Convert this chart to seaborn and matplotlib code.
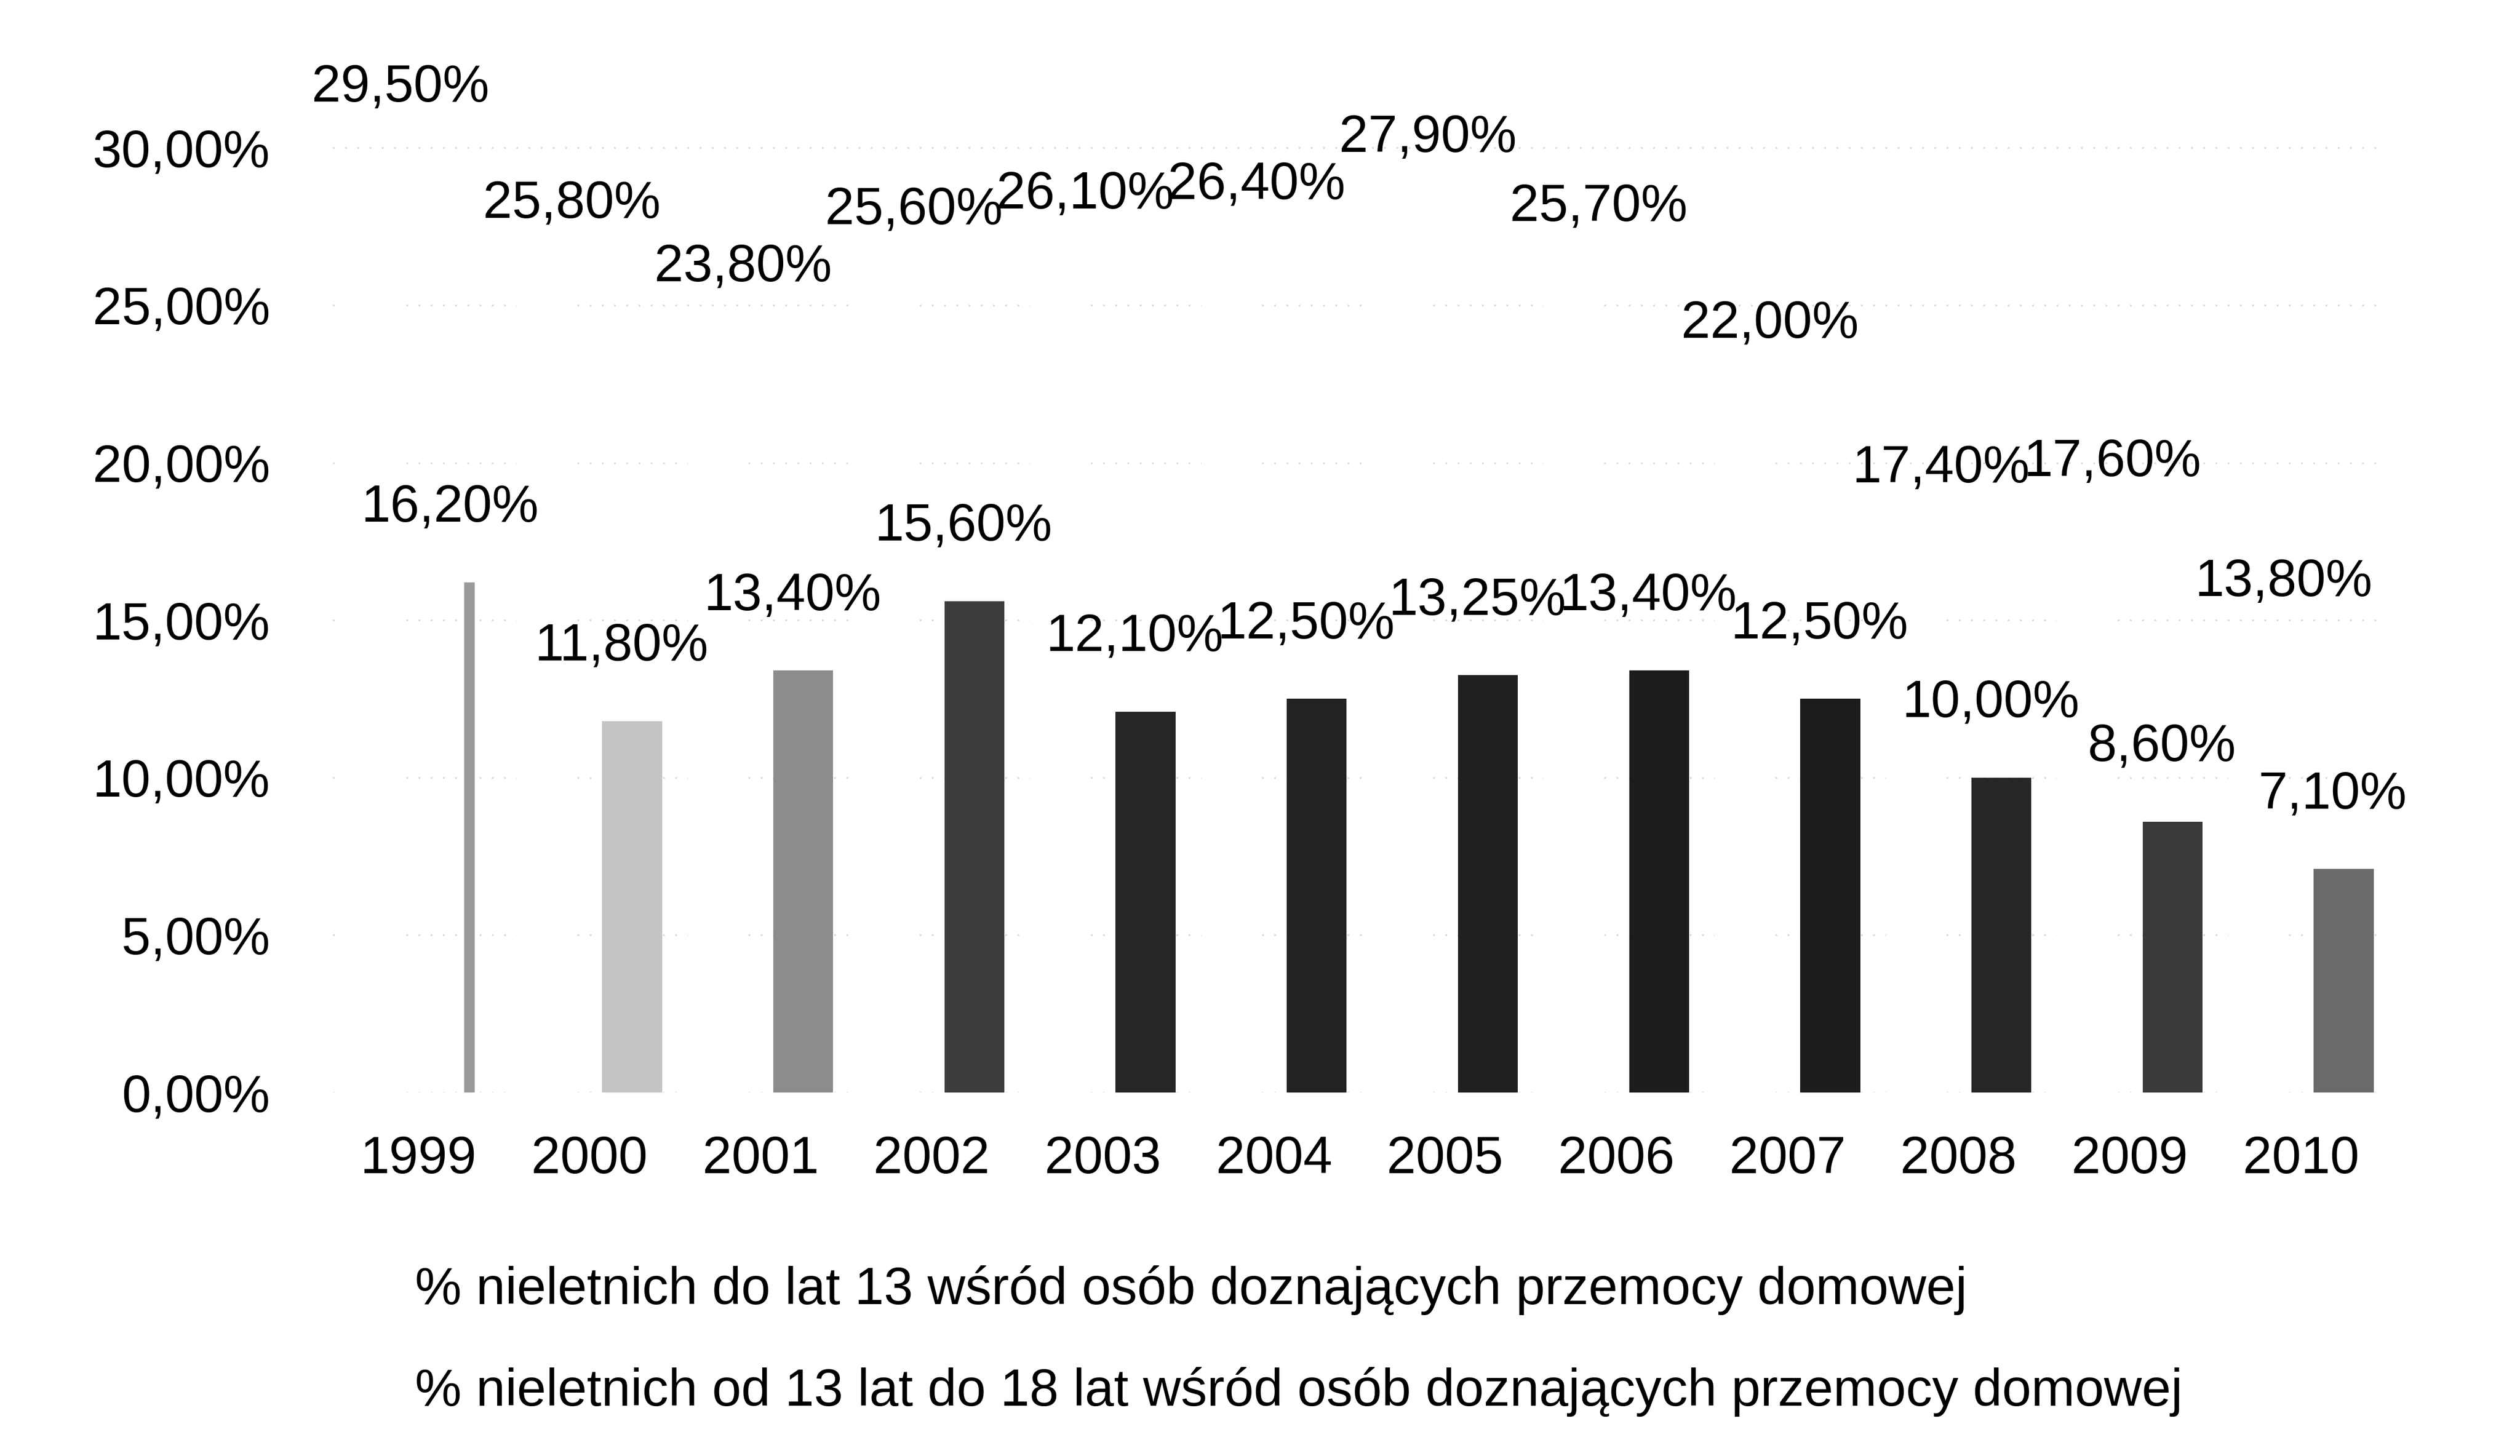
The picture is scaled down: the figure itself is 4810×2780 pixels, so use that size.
import pandas as pd
import numpy as np
import matplotlib
matplotlib.use('Agg')
import matplotlib.pyplot as plt
from matplotlib.ticker import FuncFormatter
import seaborn as sns

years = ['1999', '2000', '2001', '2002', '2003', '2004', '2005', '2006', '2007', '2008', '2009', '2010']
do_13 = [16.2, 11.8, 13.4, 15.6, 12.1, 12.5, 13.25, 13.4, 12.5, 10.0, 8.6, 7.1]
od_13_do_18 = [29.5, 25.8, 23.8, 25.6, 26.1, 26.4, 27.9, 25.7, 22.0, 17.4, 17.6, 13.8]

lab_do_13 = '% nieletnich do lat 13 wśród osób doznających przemocy domowej'
lab_od_13 = '% nieletnich od 13 lat do 18 lat wśród osób doznających przemocy domowej'

# shades of the scanned bars, light on the left, dark in the middle
bar_colors = ['#9a9a9a', '#c4c4c4', '#8c8c8c', '#3c3c3c', '#262626', '#222222',
              '#202020', '#1c1c1c', '#1c1c1c', '#262626', '#3a3a3a', '#6a6a6a']

df = pd.DataFrame({'rok': years, lab_do_13: do_13, lab_od_13: od_13_do_18})
df_long = df.melt(id_vars='rok', var_name='seria', value_name='proc')

sns.set_style('white')
plt.rcParams['font.family'] = ['Liberation Sans', 'DejaVu Sans']
plt.rcParams['text.color'] = 'black'
fs = 36

fig = plt.figure(figsize=(24.05, 13.9), dpi=200)
ax = fig.add_axes([0.132, 0.2496, 0.815, 0.7354])

sns.barplot(data=df_long, x='rok', y='proc', hue='seria',
            hue_order=[lab_od_13, lab_do_13],
            palette={lab_od_13: (1, 1, 1, 0), lab_do_13: '#333333'},
            width=1.0, gap=0.3, legend=False, ax=ax)

for patch, c in zip(ax.containers[1], bar_colors):
    patch.set_facecolor(c)
    patch.set_edgecolor('none')
for patch in ax.containers[0]:
    patch.set_edgecolor('none')
# the 1999 bar is only a thin streak on the scan
p0 = ax.containers[1][0]
cx = p0.get_x() + p0.get_width() / 2
p0.set_width(0.06)
p0.set_x(cx - 0.03 + 0.05)

for i, v in enumerate(do_13):
    txt = f'{v:.2f}'.replace('.', ',') + '%'
    ax.annotate(txt, (i, v), xytext=(22, 51), textcoords='offset points',
                ha='center', va='center', fontsize=fs, color='black')
for i, v in enumerate(od_13_do_18):
    txt = f'{v:.2f}'.replace('.', ',') + '%'
    ax.annotate(txt, (i, v), xytext=(-12, 52), textcoords='offset points',
                ha='center', va='center', fontsize=fs, color='black',
                annotation_clip=False)

ax.set_ylim(0, 34)
ax.set_xlim(-0.5, 11.5)
ax.set_yticks([0, 5, 10, 15, 20, 25, 30])
ax.yaxis.set_major_formatter(FuncFormatter(lambda v, p: f'{v:.2f}'.replace('.', ',') + '%'))
ax.tick_params(axis='y', length=0, pad=43, labelsize=fs, labelcolor='black')
ax.tick_params(axis='x', length=0, pad=29, labelsize=fs, labelcolor='black')
ax.set_xlabel('')
ax.set_ylabel('')
ax.grid(axis='y', color='#d8d8d8', linestyle=(0, (1, 6)), linewidth=1.2)
ax.set_axisbelow(True)
sns.despine(ax=ax, left=True, bottom=True)

fig.text(0.1647, 0.114, lab_do_13, fontsize=fs, ha='left', va='center')
fig.text(0.1647, 0.044, lab_od_13, fontsize=fs, ha='left', va='center')

fig.savefig('out.png', dpi=200)
